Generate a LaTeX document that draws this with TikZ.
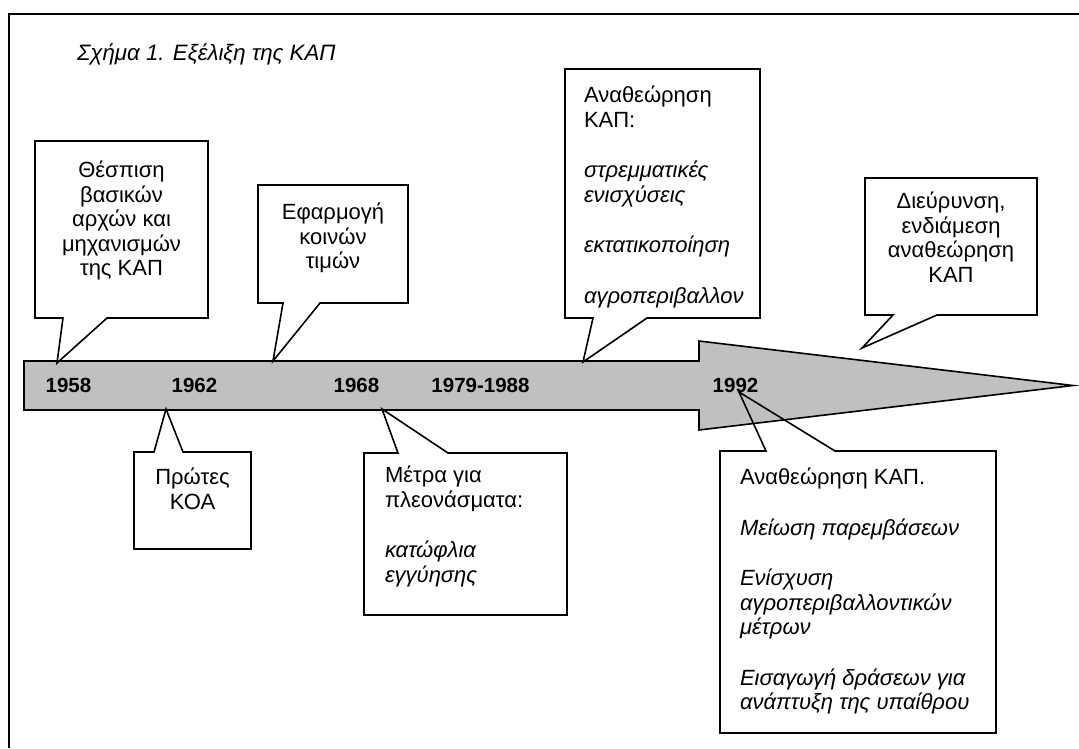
\documentclass[tikz,border=0pt]{standalone}
\usepackage{fontspec}
\setmainfont{Liberation Sans}
\definecolor{bargray}{HTML}{C0C0C0}
\tikzset{
	% ------- every something
	every picture/.style={
		x=1pt, y=-1pt,
	},
	every node/.style={
		font=\fontsize{22}{24.5}\selectfont,
		inner sep=0pt, outer sep=0pt,
	},
	% ------- custom
	frame line/.style={
		line width=2pt,
	},
	timeline/.style={
		fill=bargray, draw=black, line width=1.6pt, line join=miter,
	},
	year/.style={
		font=\fontsize{20.5}{24.5}\selectfont\bfseries,
		anchor=base,
	},
	callbox/.style={
		rectangle, draw=none,
	},
	callout line/.style={
		line width=1.6pt, line join=miter,
	},
	boxtext/.style={
		align=center, anchor=north,
		execute at begin node=\strut,
	},
	boxtext left/.style={
		align=left, anchor=north west,
		execute at begin node=\strut,
	},
}

\begin{document}
\begin{tikzpicture}

% frame %{{{1

	\useasboundingbox (0,0) rectangle (1079,748);
	\draw[frame line] (9,748) -- (9,14) -- (1079,14);

	\node[anchor=base west, font=\fontsize{22.3}{24.5}\selectfont\itshape] (title) at (77,60)
	{Σχήμα 1. Εξέλιξη της ΚΑΠ};

% timeline %{{{1

	\coordinate (bar start top) at (24,361);
	\coordinate (bar start bottom) at (24,410);
	\coordinate (head top) at (699,341);
	\coordinate (head bottom) at (699,430);
	\coordinate (head tip) at (1073,385.5);

	\draw[timeline] (bar start top) -- (699,361) -- (head top) -- (head tip)
		-- (head bottom) -- (699,410) -- (bar start bottom) -- cycle;

% years %{{{1

	\node[year] (y1958) at (68.5,392.3) {1958};
	\node[year] (y1962) at (194.5,392.3) {1962};
	\node[year] (y1968) at (356.5,392.3) {1968};
	\node[year] (y1979) at (480.5,392.3) {1979-1988};
	\node[year] (y1992) at (735.5,392.3) {1992};

% pointer tips %{{{1

	\coordinate (at basics) at (57,363);
	\coordinate (at prices) at (273,361);
	\coordinate (at reform80) at (583,362);
	\coordinate (at enlarge) at (862,348);
	\coordinate (at koa) at (166,409);
	\coordinate (at surplus) at (382,409);
	\coordinate (at reform92) at (739,392);

% boxes %{{{1

	\node[callbox, minimum width=173, minimum height=177] (basics) at (121.5,229.5) {};
	\node[callbox, minimum width=150, minimum height=118] (prices) at (333,244) {};
	\node[callbox, minimum width=195, minimum height=249] (reform80) at (662.5,193.5) {};
	\node[callbox, minimum width=172, minimum height=137] (enlarge) at (951,246.5) {};
	\node[callbox, minimum width=117, minimum height=97] (koa) at (192.5,500.5) {};
	\node[callbox, minimum width=203, minimum height=162] (surplus) at (465.5,534) {};
	\node[callbox, minimum width=276, minimum height=282] (reform92) at (858,592) {};

% callout outlines %{{{1

	\draw[callout line] ([xshift=28pt]basics.south west) -- (basics.south west) -- (basics.north west)
		-- (basics.north east) -- (basics.south east) -- ([xshift=72pt]basics.south west) -- (at basics) -- cycle;
	\draw[callout line] ([xshift=25pt]prices.south west) -- (prices.south west) -- (prices.north west)
		-- (prices.north east) -- (prices.south east) -- ([xshift=62pt]prices.south west) -- (at prices) -- cycle;
	\draw[callout line] ([xshift=28pt]reform80.south west) -- (reform80.south west) -- (reform80.north west)
		-- (reform80.north east) -- (reform80.south east) -- ([xshift=82pt]reform80.south west) -- (at reform80) -- cycle;
	\draw[callout line] ([xshift=28pt]enlarge.south west) -- (enlarge.south west) -- (enlarge.north west)
		-- (enlarge.north east) -- (enlarge.south east) -- ([xshift=72pt]enlarge.south west) -- (at enlarge) -- cycle;

	\draw[callout line] ([xshift=20pt]koa.north west) -- (koa.north west) -- (koa.south west)
		-- (koa.south east) -- (koa.north east) -- ([xshift=49pt]koa.north west) -- (at koa) -- cycle;
	\draw[callout line] ([xshift=34pt]surplus.north west) -- (surplus.north west) -- (surplus.south west)
		-- (surplus.south east) -- (surplus.north east) -- ([xshift=84pt]surplus.north west) -- (at surplus) -- cycle;
	\draw[callout line] ([xshift=46pt]reform92.north west) -- (reform92.north west) -- (reform92.south west)
		-- (reform92.south east) -- (reform92.north east) -- ([xshift=115pt]reform92.north west) -- (at reform92) -- cycle;

% box texts %{{{1

	\node[boxtext] (basics text) at (121.5,161)
	{Θέσπιση\\βασικών\\αρχών και\\μηχανισμών\\της ΚΑΠ};

	\node[boxtext] (prices text) at (333,203)
	{Εφαρμογή\\κοινών\\τιμών};

	\node[boxtext left] (reform80 text) at (584,86)
	{Αναθεώρηση\\ΚΑΠ:\\[26pt]\textit{στρεμματικές}\\\textit{ενισχύσεις}\\[26pt]%
	\textit{εκτατικοποίηση}\\[26pt]\textit{αγροπεριβαλλον}};

	\node[boxtext] (enlarge text) at (951,192)
	{Διεύρυνση,\\ενδιάμεση\\αναθεώρηση\\ΚΑΠ};

	\node[boxtext] (koa text) at (192.5,468)
	{Πρώτες\\ΚΟΑ};

	\node[boxtext left] (surplus text) at (385,466)
	{Μέτρα για\\πλεονάσματα:\\[26pt]\textit{κατώφλια}\\\textit{εγγύησης}};

	\node[boxtext left] (reform92 text) at (740,468)
	{Αναθεώρηση ΚΑΠ.\\[26pt]\textit{Μείωση παρεμβάσεων}\\[26pt]\textit{Ενίσχυση}\\%
	\textit{αγροπεριβαλλοντικών}\\\textit{μέτρων}\\[26pt]\textit{Εισαγωγή δράσεων για}\\%
	\textit{ανάπτυξη της υπαίθρου}};

% closing %{{{1

\end{tikzpicture}
\end{document}
